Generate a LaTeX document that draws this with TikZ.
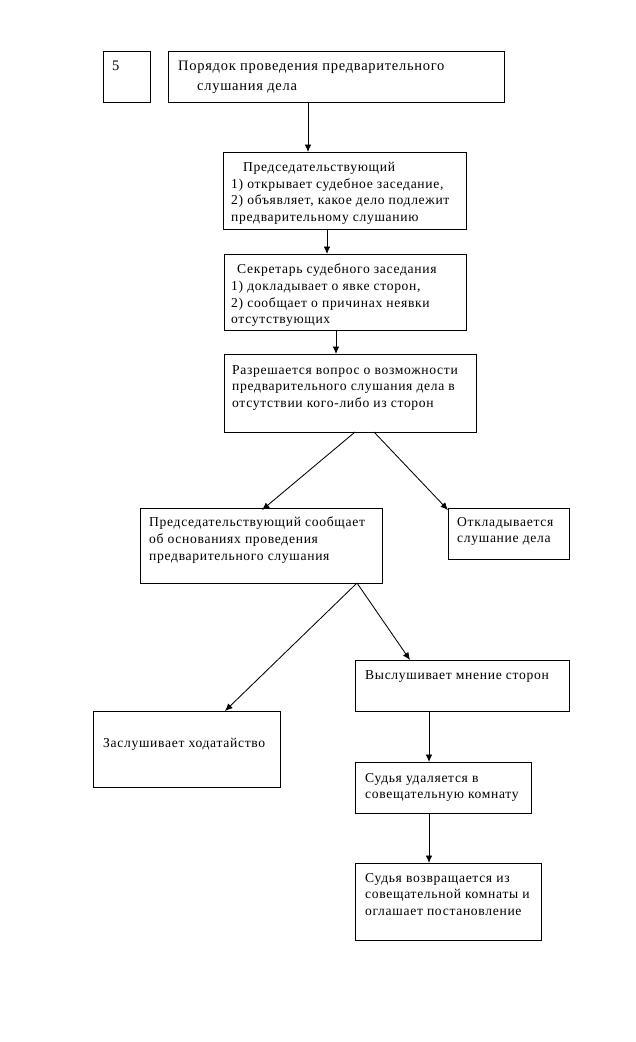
\documentclass[tikz,border=0pt]{standalone}
\usepackage{fontspec}
\setmainfont{Liberation Serif}[LetterSpace=5]
\usetikzlibrary{arrows.meta}
\begin{document}
\begin{tikzpicture}[x=1pt,y=-1pt,
  box/.style={draw,line width=0.9pt,inner sep=0pt,outer sep=0pt},
  txt/.style={anchor=north west,align=left,inner sep=0pt,font=\fontsize{13.6}{16.6}\selectfont},
  ttl/.style={txt,font=\fontsize{14.5}{20}\selectfont},
  arr/.style={-{Latex[length=7.5pt,width=6.5pt]},line width=0.85pt}]
\useasboundingbox (0,0) rectangle (636,1042);
\fill[white] (0,0) rectangle (636,1042);
% boxes: centre, size
\node[box,minimum width=47pt,minimum height=51pt] (num) at (126.5,76.5) {};
\node[box,minimum width=336pt,minimum height=51pt] (title) at (336,76.5) {};
\node[box,minimum width=243pt,minimum height=77pt] (b2) at (344.5,190.5) {};
\node[box,minimum width=242pt,minimum height=76pt] (b3) at (345,292) {};
\node[box,minimum width=252pt,minimum height=78pt] (b4) at (350,393) {};
\node[box,minimum width=242pt,minimum height=75pt] (b5) at (261,545.5) {};
\node[box,minimum width=121pt,minimum height=51pt] (b6) at (508.5,533.5) {};
\node[box,minimum width=187pt,minimum height=76pt] (b7) at (186.5,749) {};
\node[box,minimum width=214pt,minimum height=51pt] (b8) at (462,685.5) {};
\node[box,minimum width=176pt,minimum height=51pt] (b9) at (443,787.5) {};
\node[box,minimum width=186pt,minimum height=77pt] (b10) at (448,901.5) {};
% texts (top of first line)
\node[ttl] (tnum) at (112,61) {5};
\node[ttl] (ttitle) at (178,61) {Порядок проведения предварительного\\\hspace*{19pt}слушания дела};
\node[txt] (t2) at (231,162) {\hspace*{12pt}Председательствующий\\1) открывает судебное заседание,\\2) объявляет, какое дело подлежит\\предварительному слушанию};
\node[txt] (t3) at (231,264) {\hspace*{6pt}Секретарь судебного заседания\\1) докладывает о явке сторон,\\2) сообщает о причинах неявки\\отсутствующих};
\node[txt] (t4) at (232,365) {Разрешается вопрос о возможности\\предварительного слушания дела в\\отсутствии кого-либо из сторон};
\node[txt] (t5) at (149,517) {Председательствующий сообщает\\об основаниях проведения\\предварительного слушания};
\node[txt] (t6) at (457,517) {Откладывается\\слушание дела};
\node[txt] (t7) at (103,738) {Заслушивает ходатайство};
\node[txt] (t8) at (365,670) {Выслушивает мнение сторон};
\node[txt] (t9) at (365,773) {Судья удаляется в\\совещательную комнату};
\node[txt] (t10) at (365,873) {Судья возвращается из\\совещательной комнаты и\\оглашает постановление};
% connectors
\draw[arr] ([xshift=140pt]title.south west) -- ([xshift=85pt]b2.north west);
\draw[arr] ([xshift=104pt]b2.south west) -- ([xshift=103pt]b3.north west);
\draw[arr] ([xshift=112pt]b3.south west) -- ([xshift=112pt]b4.north west);
\draw[arr] ([xshift=131pt]b4.south west) -- ([xshift=122pt,yshift=-2pt]b5.north west);
\draw[arr] ([xshift=150pt]b4.south west) -- ([yshift=-2pt]b6.north west);
\draw[arr] ([xshift=217pt]b5.south west) -- ([xshift=132pt]b7.north west);
\draw[arr] ([xshift=217pt]b5.south west) -- ([xshift=55pt]b8.north west);
\draw[arr] ([xshift=74pt]b8.south west) -- ([xshift=74pt]b9.north west);
\draw[arr] ([xshift=74pt]b9.south west) -- ([xshift=74pt]b10.north west);
\end{tikzpicture}
\end{document}
